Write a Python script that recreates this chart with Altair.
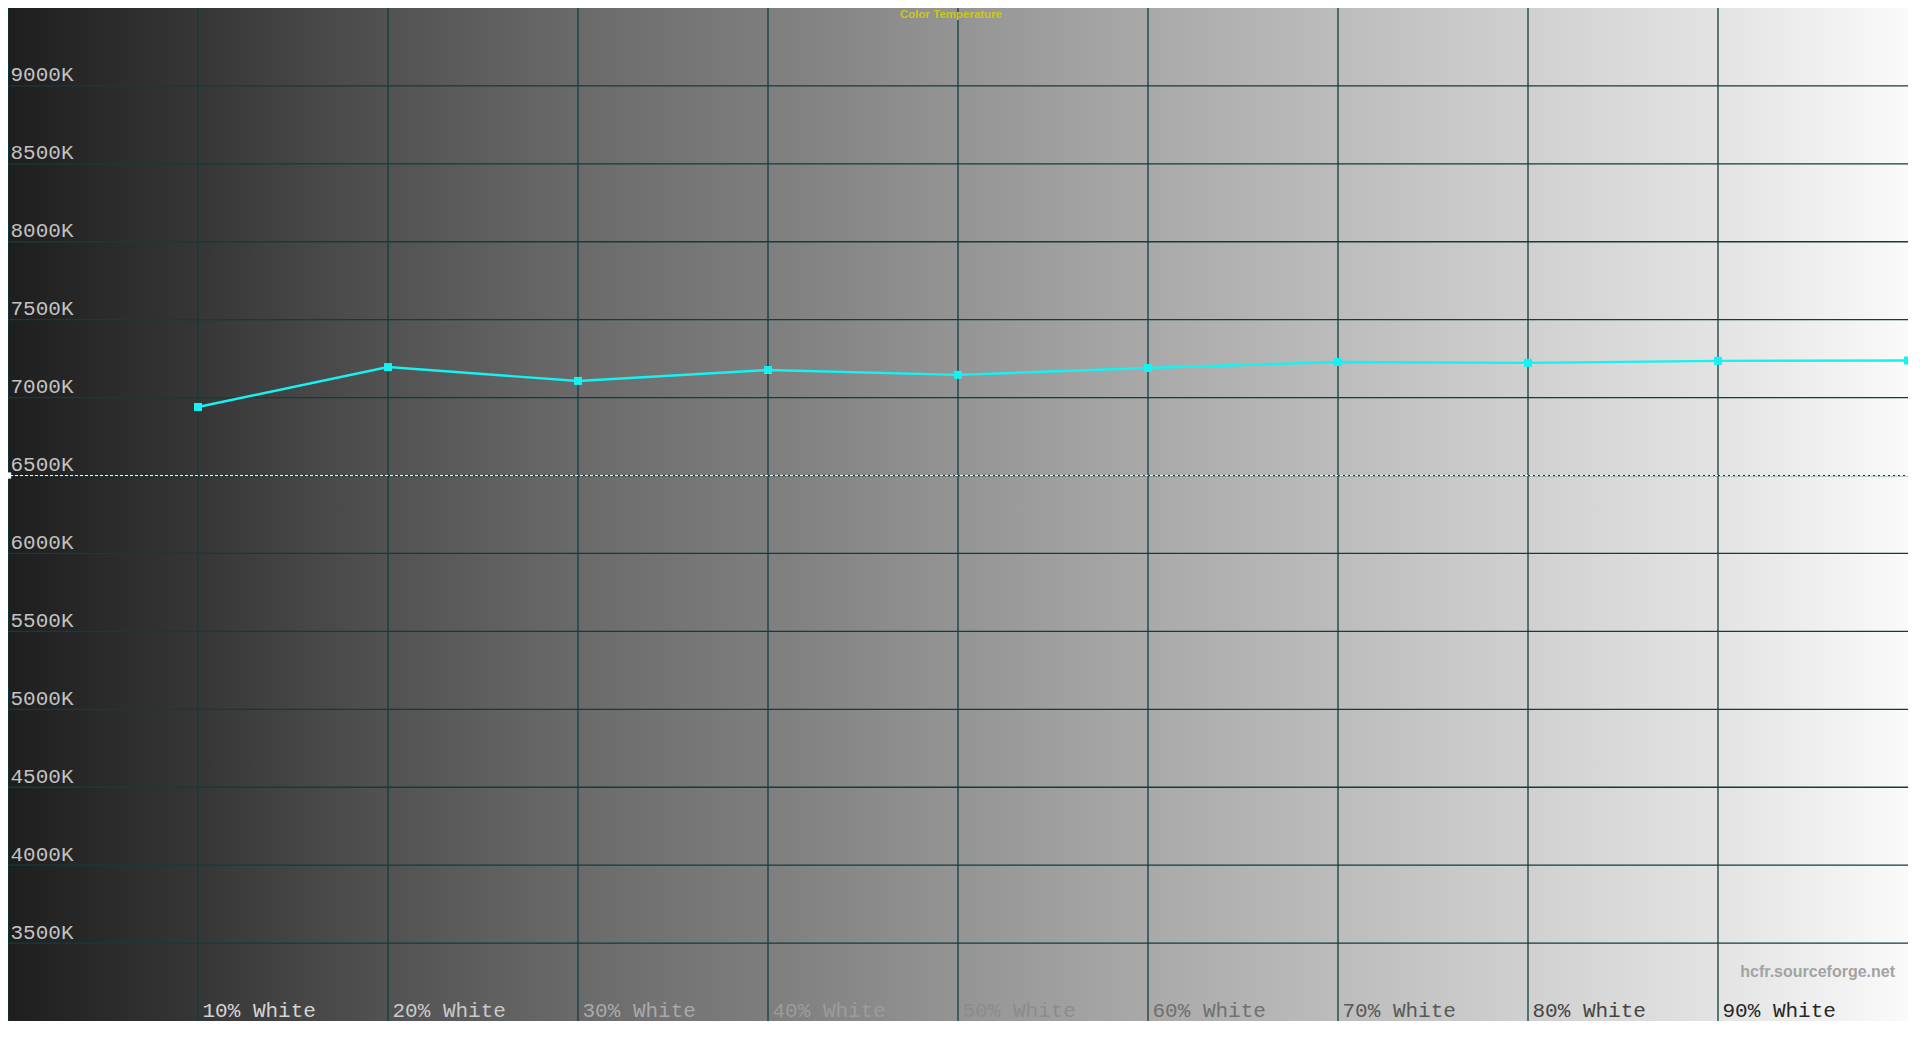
import altair as alt
import pandas as pd

# ---- data ----
levels = [10, 20, 30, 40, 50, 60, 70, 80, 90, 100]
cct_k = [6940, 7196, 7107, 7177, 7146, 7190, 7229, 7223, 7236, 7238]
y_tick_values = [3500, 4000, 4500, 5000, 5500, 6000, 6500, 7000, 7500, 8000, 8500, 9000]
x_tick_values = [0, 10, 20, 30, 40, 50, 60, 70, 80, 90]
target_k = [6500]
title_text = ["Color Temperature"]
watermark = ["hcfr.sourceforge.net"]
x_domain = [0, 100]
y_domain = [3000, 9500]

# ---- styles ----
W, H = 1900, 1013
grid_color = "#0e3e3e"
line_color = "#14f2f2"
mono = "Courier New, Liberation Mono, monospace"
label_color_by_level = {
    10: "#d4d4d4", 20: "#cacaca", 30: "#a9a9a9", 40: "#9c9c9c", 50: "#8c8c8c",
    60: "#707070", 70: "#585858", 80: "#444444", 90: "#262626",
}
bg_stops = [
    (0.0, "#1e1e1e"), (0.1, "#363636"), (0.2, "#525252"), (0.3, "#6a6a6a"),
    (0.4, "#7e7e7e"), (0.5, "#949494"), (0.6, "#a9a9a9"), (0.7, "#bcbcbc"),
    (0.8, "#d0d0d0"), (0.9, "#e3e3e3"), (1.0, "#fafafa"),
]

df = pd.DataFrame({"level": levels, "cct": cct_k})
df_target = pd.DataFrame({"t": target_k})
df_wm = pd.DataFrame({"t": watermark})
df_title = pd.DataFrame({"t": title_text})
df_bg = pd.DataFrame({"x0": [x_domain[0]], "x1": [x_domain[1]], "y0": [y_domain[0]], "y1": [y_domain[1]]})
df_xgrid = pd.DataFrame({"v": x_tick_values})
df_ygrid = pd.DataFrame({"v": y_tick_values})

x_scale = alt.Scale(domain=x_domain, nice=False, zero=False)
y_scale = alt.Scale(domain=y_domain, nice=False, zero=False)

x_label_cond = [{"test": f"datum.value == {k}", "value": v} for k, v in label_color_by_level.items()]

x_axis = alt.Axis(
    values=x_tick_values,
    labelExpr="datum.value > 0 ? datum.value + '% White' : ''",
    orient="bottom", domain=False, ticks=False, tickSize=0,
    labelAlign="left", labelBaseline="alphabetic", labelPadding=-5, labelOffset=4,
    labelFont=mono, labelFontSize=21,
    labelColor={"condition": x_label_cond, "value": "#262626"},
    labelOverlap=False, labelFlush=False, labelBound=False,
    grid=False, zindex=1,
    title=None,
)
y_axis = alt.Axis(
    values=y_tick_values,
    labelExpr="datum.value + 'K'",
    orient="left", domain=False, ticks=False, tickSize=0,
    labelAlign="left", labelBaseline="alphabetic", labelPadding=-2, labelOffset=-5,
    labelFont=mono, labelFontSize=21, labelColor="#c2c2c2",
    labelOverlap=False, labelFlush=False, labelBound=False,
    grid=False, zindex=1,
    title=None,
)

gradient = alt.LinearGradient(
    gradient="linear", x1=0, x2=1, y1=0, y2=0,
    stops=[alt.GradientStop(offset=o, color=c) for o, c in bg_stops],
)

bg = alt.Chart(df_bg).mark_rect(color=gradient, opacity=1).encode(
    x=alt.X("x0:Q", scale=x_scale, axis=x_axis),
    x2="x1:Q",
    y=alt.Y("y0:Q", scale=y_scale, axis=y_axis),
    y2="y1:Q",
)

xgrid = alt.Chart(df_xgrid).mark_rule(color=grid_color, strokeWidth=1.3).encode(
    x=alt.X("v:Q", scale=x_scale)
)
ygrid = alt.Chart(df_ygrid).mark_rule(color=grid_color, strokeWidth=1.3).encode(
    y=alt.Y("v:Q", scale=y_scale)
)

base = alt.Chart(df).encode(
    x=alt.X("level:Q", scale=x_scale),
    y=alt.Y("cct:Q", scale=y_scale),
)
line = base.mark_line(color=line_color, strokeWidth=2.4)
pts = base.mark_point(shape="square", filled=True, size=64, color=line_color, opacity=1)

target = alt.Chart(df_target).mark_rule(color="#ffffff", strokeDash=[3, 2], strokeWidth=1).encode(
    y=alt.Y("t:Q", scale=y_scale)
)
target_mark = alt.Chart(df_target).mark_point(
    shape="square", filled=True, size=40, color="#ffffff", opacity=1
).encode(x=alt.value(0), y=alt.Y("t:Q", scale=y_scale))

wm = alt.Chart(df_wm).mark_text(
    align="right", baseline="alphabetic", font="Liberation Sans", fontSize=16,
    fontWeight="bold", color="#a3a3a3",
).encode(x=alt.value(1887), y=alt.value(969), text="t:N")

ttl = alt.Chart(df_title).mark_text(
    align="center", baseline="alphabetic", font="Liberation Sans", fontSize=11.5,
    fontWeight="bold", color="#c8c81e",
).encode(x=alt.value(943), y=alt.value(10), text="t:N")

chart = alt.layer(bg, xgrid, ygrid, target, target_mark, line, pts, wm, ttl).properties(
    width=W, height=H,
    autosize=alt.AutoSizeParams(type="none"),
    padding=0,
).configure_view(strokeOpacity=0)

chart.save("out.html", embed_options={"renderer": "svg", "actions": False})
